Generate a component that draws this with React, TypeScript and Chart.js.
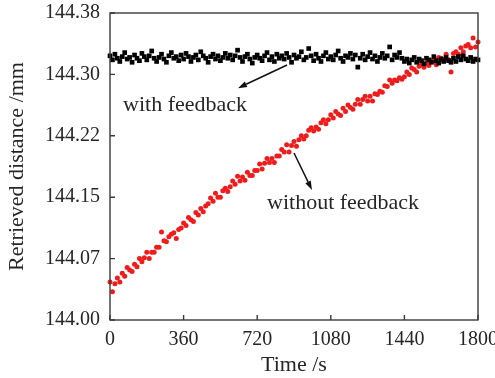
import React, { useEffect, useRef } from 'react';
import { Chart, registerables } from 'chart.js';

Chart.register(...registerables);

// Sampling interval of the measurement (s)
const TIME_STEP_S = 12;

// Retrieved distance with feedback (mm)
const WITH_FEEDBACK = [
  144.327, 144.322, 144.329, 144.324, 144.320, 144.326, 144.331, 144.323, 144.325, 144.319,
  144.328, 144.324, 144.321, 144.330, 144.326, 144.322, 144.327, 144.333, 144.324, 144.320,
  144.325, 144.329, 144.323, 144.319, 144.327, 144.331, 144.324, 144.326, 144.321, 144.328,
  144.323, 144.330, 144.326, 144.320, 144.325, 144.328, 144.322, 144.332, 144.327, 144.324,
  144.319, 144.326, 144.329, 144.323, 144.327, 144.321, 144.325, 144.330, 144.324, 144.328,
  144.322, 144.327, 144.334, 144.325, 144.320, 144.326, 144.329, 144.323, 144.318, 144.325,
  144.328, 144.324, 144.321, 144.327, 144.331, 144.322, 144.326, 144.320, 144.329, 144.324,
  144.327, 144.323, 144.330, 144.325, 144.319, 144.328, 144.324, 144.326, 144.332, 144.322,
  144.325, 144.336, 144.327, 144.321, 144.329, 144.324, 144.320, 144.327, 144.331, 144.323,
  144.326, 144.322, 144.328, 144.333, 144.324, 144.320, 144.327, 144.325, 144.330, 144.323,
  144.328, 144.313, 144.324, 144.329, 144.322, 144.326, 144.331, 144.323, 144.327, 144.320,
  144.325, 144.330, 144.324, 144.327, 144.338, 144.322, 144.328, 144.325, 144.331, 144.324,
  144.320, 144.323, 144.318, 144.322, 144.325, 144.319, 144.323, 144.321, 144.317, 144.324,
  144.322, 144.319, 144.326, 144.321, 144.318, 144.323, 144.320, 144.325, 144.321, 144.319,
  144.324, 144.320, 144.326, 144.322, 144.327, 144.323, 144.321, 144.325, 144.320, 144.323,
  144.322,
];

// Retrieved distance without feedback (mm)
const WITHOUT_FEEDBACK = [
  144.047, 144.035, 144.045, 144.052, 144.047, 144.058, 144.054, 144.065, 144.062, 144.060,
  144.069, 144.066, 144.076, 144.072, 144.077, 144.084, 144.076, 144.084, 144.084, 144.090,
  144.090, 144.109, 144.098, 144.097, 144.103, 144.106, 144.108, 144.101, 144.112, 144.114,
  144.120, 144.117, 144.127, 144.124, 144.122, 144.133, 144.130, 144.138, 144.134, 144.141,
  144.144, 144.151, 144.147, 144.157, 144.152, 144.152, 144.160, 144.163, 144.159, 144.165,
  144.172, 144.168, 144.178, 144.172, 144.177, 144.173, 144.183, 144.179, 144.179, 144.185,
  144.185, 144.193, 144.187, 144.194, 144.200, 144.195, 144.200, 144.195, 144.203, 144.203,
  144.211, 144.208, 144.217, 144.208, 144.216, 144.221, 144.215, 144.223, 144.228, 144.224,
  144.228, 144.235, 144.238, 144.234, 144.239, 144.236, 144.244, 144.248, 144.243, 144.248,
  144.254, 144.250, 144.258, 144.255, 144.253, 144.262, 144.258, 144.266, 144.263, 144.261,
  144.267, 144.273, 144.267, 144.273, 144.277, 144.271, 144.277, 144.271, 144.280, 144.279,
  144.283, 144.282, 144.290, 144.289, 144.297, 144.293, 144.297, 144.296, 144.300, 144.298,
  144.301, 144.307, 144.304, 144.312, 144.310, 144.307, 144.314, 144.317, 144.313, 144.318,
  144.315, 144.321, 144.320, 144.316, 144.325, 144.324, 144.322, 144.329, 144.322, 144.307,
  144.330, 144.332, 144.329, 144.337, 144.332, 144.339, 144.341, 144.337, 144.349, 144.338,
  144.344,
];

const X_TICKS = [0, 360, 720, 1080, 1440, 1800];
const Y_TICKS = [144.0, 144.076, 144.152, 144.228, 144.304, 144.38];
const Y_TICK_LABELS = ['144.00', '144.07', '144.15', '144.22', '144.30', '144.38'];

const X_TITLE = 'Time /s';
const Y_TITLE = 'Retrieved distance /mm';

// Annotations (data units)
const NOTE_TEXTS = ['with feedback', 'without feedback'];
const NOTE_AT: [number, number][] = [
  [64, 144.266],
  [768, 144.144],
];
const ARROWS: [number, number, number, number][] = [
  [866, 144.3156, 626, 144.287],
  [900, 144.2067, 988, 144.161],
];

const FONT = '"Liberation Serif", "Times New Roman", serif';
const TEXT_COLOR = '#262626';
const FRAME_COLOR = '#3a3a3a';

const toPoints = (arr: number[]) => arr.map((y, i) => ({ x: i * TIME_STEP_S, y }));

const decorPlugin = {
  id: 'decor',
  afterDatasetsDraw(chart: any) {
    const { ctx, chartArea } = chart;
    const xs = chart.scales.x;
    const ys = chart.scales.y;
    const { left, right, top, bottom } = chartArea;
    ctx.save();
    ctx.strokeStyle = FRAME_COLOR;
    ctx.lineWidth = 1.4;
    ctx.strokeRect(left, top, right - left, bottom - top);
    ctx.beginPath();
    for (const v of X_TICKS) {
      const px = xs.getPixelForValue(v);
      ctx.moveTo(px, bottom);
      ctx.lineTo(px, bottom - 5);
    }
    for (const v of Y_TICKS) {
      const py = ys.getPixelForValue(v);
      ctx.moveTo(left, py);
      ctx.lineTo(left + 5, py);
    }
    ctx.stroke();

    ctx.strokeStyle = '#111';
    ctx.fillStyle = '#111';
    ctx.lineWidth = 1.5;
    for (const [x0, y0, x1, y1] of ARROWS) {
      const ax = xs.getPixelForValue(x0);
      const ay = ys.getPixelForValue(y0);
      const bx = xs.getPixelForValue(x1);
      const by = ys.getPixelForValue(y1);
      const ang = Math.atan2(by - ay, bx - ax);
      const hl = 9;
      const hw = 3;
      const baseX = bx - hl * Math.cos(ang);
      const baseY = by - hl * Math.sin(ang);
      ctx.beginPath();
      ctx.moveTo(ax, ay);
      ctx.lineTo(baseX, baseY);
      ctx.stroke();
      ctx.beginPath();
      ctx.moveTo(bx, by);
      ctx.lineTo(baseX + hw * Math.sin(ang), baseY - hw * Math.cos(ang));
      ctx.lineTo(baseX - hw * Math.sin(ang), baseY + hw * Math.cos(ang));
      ctx.closePath();
      ctx.fill();
    }

    ctx.fillStyle = TEXT_COLOR;
    ctx.font = `22px ${FONT}`;
    ctx.textAlign = 'left';
    ctx.textBaseline = 'middle';
    NOTE_TEXTS.forEach((t, i) => {
      const [nx, ny] = NOTE_AT[i];
      ctx.fillText(t, xs.getPixelForValue(nx), ys.getPixelForValue(ny));
    });
    ctx.restore();
  },
};

export default function App() {
  const ref = useRef<HTMLCanvasElement>(null);
  useEffect(() => {
    document.body.style.margin = '0';
    const chart = new Chart(ref.current as HTMLCanvasElement, {
      type: 'scatter',
      data: {
        datasets: [
          {
            label: 'with feedback',
            data: toPoints(WITH_FEEDBACK),
            pointStyle: 'rect',
            pointRadius: 3.3,
            pointBorderWidth: 0,
            backgroundColor: '#000000',
            borderColor: '#000000',
            clip: false as any,
          },
          {
            label: 'without feedback',
            data: toPoints(WITHOUT_FEEDBACK),
            pointStyle: 'circle',
            pointRadius: 2.5,
            pointBorderWidth: 0,
            backgroundColor: '#f01c1c',
            borderColor: '#f01c1c',
            clip: false as any,
          },
        ],
      },
      options: {
        animation: false,
        responsive: false,
        layout: { padding: { top: 13, right: 17, left: 0, bottom: 0 } },
        plugins: { legend: { display: false }, tooltip: { enabled: false } },
        scales: {
          x: {
            type: 'linear',
            min: 0,
            max: 1800,
            afterBuildTicks: (s: any) => {
              s.ticks = X_TICKS.map((v) => ({ value: v }));
            },
            afterFit: (s: any) => {
              s.height = 58;
              s.paddingLeft = 0;
              s.paddingRight = 0;
            },
            grid: { display: false, drawTicks: false },
            border: { display: false },
            ticks: {
              autoSkip: false,
              maxRotation: 0,
              padding: 7.5,
              color: TEXT_COLOR,
              font: { family: FONT, size: 20 },
              callback: (v: any) => String(v),
            },
            title: {
              display: true,
              text: X_TITLE,
              color: TEXT_COLOR,
              font: { family: FONT, size: 22, lineHeight: 1 },
              padding: { top: 0, bottom: 2 },
            },
          },
          y: {
            type: 'linear',
            min: 144.0,
            max: 144.38,
            afterBuildTicks: (s: any) => {
              s.ticks = Y_TICKS.map((v) => ({ value: v }));
            },
            afterFit: (s: any) => {
              s.width = 110;
              s.paddingTop = 0;
              s.paddingBottom = 0;
            },
            grid: { display: false, drawTicks: false },
            border: { display: false },
            ticks: {
              autoSkip: false,
              padding: 10,
              color: TEXT_COLOR,
              font: { family: FONT, size: 20 },
              callback: (_v: any, i: number) => Y_TICK_LABELS[i],
            },
            title: {
              display: true,
              text: Y_TITLE,
              color: TEXT_COLOR,
              font: { family: FONT, size: 22, lineHeight: 1 },
              padding: { top: 6.5, bottom: 0 },
            },
          },
        },
      },
      plugins: [decorPlugin],
    });
    return () => chart.destroy();
  }, []);
  return (
    <div style={{ width: 495, height: 378 }}>
      <canvas ref={ref} width={495} height={378} style={{ display: 'block' }} />
    </div>
  );
}
